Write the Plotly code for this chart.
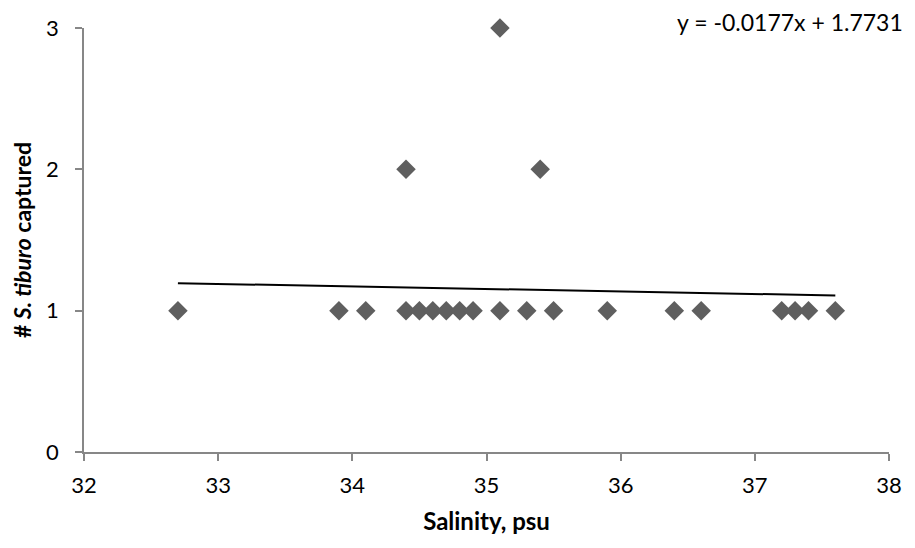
import plotly.graph_objects as go

salinity = [32.7, 33.9, 34.1, 34.4, 34.5, 34.6, 34.7, 34.8, 34.9, 35.1, 35.3, 35.5,
            35.9, 36.4, 36.6, 37.2, 37.3, 37.4, 37.6, 34.4, 35.4, 35.1]
captured = [1, 1, 1, 1, 1, 1, 1, 1, 1, 1, 1, 1,
            1, 1, 1, 1, 1, 1, 1, 2, 2, 3]
slope = -0.0177
intercept = 1.7731
x_ticks = [32, 33, 34, 35, 36, 37, 38]
y_ticks = [0, 1, 2, 3]

font_family = "Lato, 'Open Sans', sans-serif"
fs = 22

xmin, xmax = min(salinity), max(salinity)
trend_x = [xmin, xmax]
trend_y = [slope * v + intercept for v in trend_x]

fig = go.Figure()
fig.add_trace(go.Scatter(
    x=salinity, y=captured, mode="markers", cliponaxis=False,
    marker=dict(symbol="diamond", size=15, color="#5f5f5f", line=dict(width=0)),
    showlegend=False, hoverinfo="x+y"))
fig.add_trace(go.Scatter(
    x=trend_x, y=trend_y, mode="lines", cliponaxis=False,
    line=dict(color="black", width=2), showlegend=False))

fig.add_annotation(
    text=f"y = {slope}x + {intercept}", xref="paper", yref="paper",
    x=1.02, y=1.014, xanchor="right", yanchor="middle", showarrow=False,
    font=dict(family=font_family, size=23, color="black"))

axis_common = dict(showgrid=False, zeroline=False, showline=True, linecolor="#878787",
                   linewidth=1.5, ticks="outside", tickcolor="#878787", tickwidth=1.5,
                   ticklen=7, automargin=False,
                   tickfont=dict(family=font_family, size=fs, color="black"))

fig.update_xaxes(range=[32, 38], tickvals=x_ticks, ticktext=[str(v) for v in x_ticks],
                 ticklabelstandoff=6,
                 title=dict(text="<b>Salinity, psu</b>", font=dict(family=font_family, size=24, color="black"), standoff=16),
                 **axis_common)
fig.update_yaxes(range=[0, 3], tickvals=y_ticks, ticktext=[str(v) for v in y_ticks],
                 ticklabelstandoff=12,
                 title=dict(text="<b># <i>S. tiburo</i> captured</b>", font=dict(family=font_family, size=23, color="black"), standoff=10),
                 **axis_common)

fig.update_layout(
    width=907, height=540, autosize=False,
    margin=dict(l=76, r=26, t=20, b=96),
    plot_bgcolor="white", paper_bgcolor="white",
)

fig.write_html("out.html")
